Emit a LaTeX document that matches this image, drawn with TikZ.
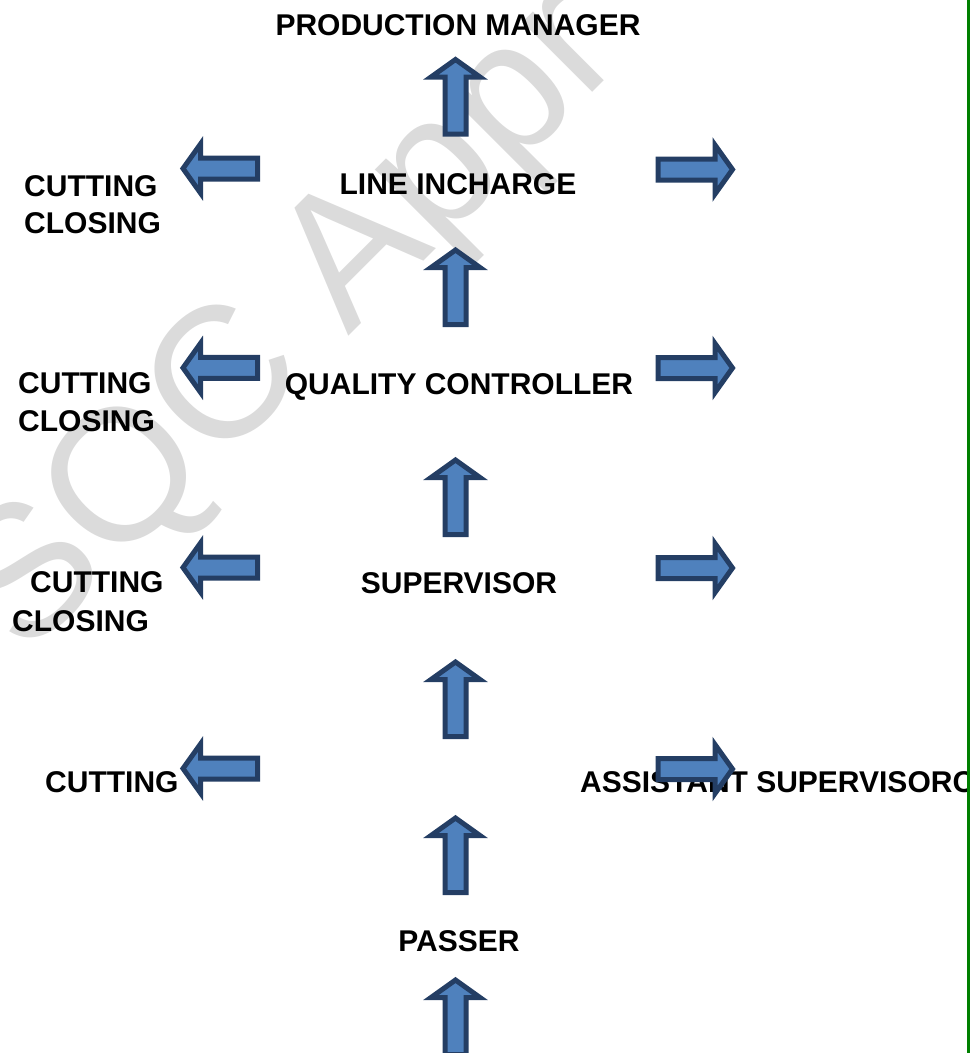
\documentclass[tikz,border=0pt]{standalone}
\usepackage{fontspec}
\setmainfont{Liberation Sans}
\definecolor{arrfill}{RGB}{79,129,189}
\definecolor{arrline}{RGB}{36,62,100}
\definecolor{wmgrey}{RGB}{219,219,219}
\definecolor{edgegreen}{RGB}{0,128,0}
\tikzset{
  lbl/.style={font=\bfseries\fontsize{30}{36}\selectfont, inner sep=0pt, anchor=base west, text=black},
  clbl/.style={lbl, anchor=base},
  wmark/.style={font=\fontsize{187}{224}\selectfont, inner sep=0pt, text=wmgrey, anchor=base west},
  blockarrow/.pic={\draw[fill=arrfill, draw=arrline, line width=5pt, miter limit=10]
     (0,-37) -- (24.5,-19.5) -- (10.5,-19.5) -- (10.5,37.5) -- (-10.5,37.5) -- (-10.5,-19.5) -- (-24.5,-19.5) -- cycle;}
}
\begin{document}
\begin{tikzpicture}[x=1pt,y=-1pt]
\useasboundingbox (0,0) rectangle (973,1053);
\begin{scope}
  \clip (0,0) rectangle (973,1053);
  \node[wmark, rotate=45] (wm) at (25,660) {SQC Appr};
\end{scope}
% labels
\node[clbl] (pm) at (458,35) {PRODUCTION MANAGER};
\node[clbl] (li) at (458,194) {LINE INCHARGE};
\node[lbl] (cut1) at (24,196) {CUTTING};
\node[lbl] (clo1) at (24,233) {CLOSING};
\node[clbl] (qc) at (459,394) {QUALITY CONTROLLER};
\node[lbl] (cut2) at (18,393) {CUTTING};
\node[lbl] (clo2) at (18,431) {CLOSING};
\node[clbl] (sup) at (459,593) {SUPERVISOR};
\node[lbl] (cut3) at (30,592) {CUTTING};
\node[lbl] (clo3) at (12,631) {CLOSING};
\node[lbl] (cut4) at (45,792) {CUTTING};
\begin{scope}
  \clip (0,0) rectangle (966,1053);
  \node[lbl] (asst) at (580,792) {ASSISTANT SUPERVISORC};
\end{scope}
\node[clbl] (pas) at (459,951) {PASSER};
% up arrows
\pic at (455.5,96.5) {blockarrow};
\pic at (455.5,287) {blockarrow};
\pic at (455.5,497) {blockarrow};
\pic at (455.5,699) {blockarrow};
\pic at (455.5,855) {blockarrow};
\begin{scope}
  \clip (0,0) rectangle (973,1053);
  \pic at (455.5,1017) {blockarrow};
\end{scope}
% left arrows
\pic[rotate=90] at (220,168.5) {blockarrow};
\pic[rotate=90] at (220,367.8) {blockarrow};
\pic[rotate=90] at (220,567.5) {blockarrow};
\pic[rotate=90] at (220,768.5) {blockarrow};
% right arrows
\pic[rotate=-90] at (695.5,169.5) {blockarrow};
\pic[rotate=-90] at (695.5,368) {blockarrow};
\pic[rotate=-90] at (695.5,568) {blockarrow};
\pic[rotate=-90] at (695.5,769) {blockarrow};
% right border line
\coordinate (gtop) at (968.5,0);
\coordinate (gbot) at (968.5,1053);
\draw[edgegreen, line width=3.5pt] (gtop) -- (gbot);
\end{tikzpicture}
\end{document}
